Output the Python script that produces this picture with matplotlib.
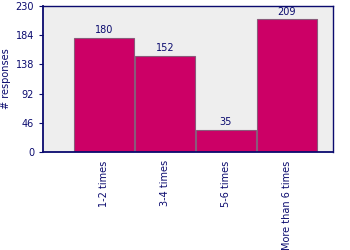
import matplotlib.pyplot as plt
import numpy as np

categories = ['1-2 times', '3-4 times', '5-6 times', 'More than 6 times']
responses = [180, 152, 35, 209]
yticks = [0, 46, 92, 138, 184, 230]

navy = '#0a0a6e'

fig = plt.figure(figsize=(3.5, 2.5), dpi=100)
ax = fig.add_axes([0.123, 0.392, 0.828, 0.584])
ax.set_facecolor('#eeeeee')

x = np.arange(len(categories))
ax.bar(x, responses, width=0.99, color='#cc0066', edgecolor='#8a5a7a', linewidth=0.8)

for xi, v in zip(x, responses):
    ax.text(xi, v + 4, str(v), ha='center', va='bottom', fontsize=7, color=navy)

ax.set_xlim(-1.01, 3.76)
ax.set_ylim(0, 230)
ax.set_yticks(yticks)
ax.set_yticklabels([str(t) for t in yticks], fontsize=7, color=navy)
ax.set_xticks(x)
ax.set_xticklabels(categories, rotation=90, fontsize=7, color=navy)
ax.tick_params(axis='x', length=0, pad=6)
ax.tick_params(axis='y', length=3, color=navy, width=0.8)
ax.set_ylabel('# responses', fontsize=7, color=navy, labelpad=3)

for s in ax.spines.values():
    s.set_color(navy)
    s.set_linewidth(1.0)
ax.spines['left'].set_linewidth(1.3)
ax.spines['bottom'].set_linewidth(1.3)

fig.savefig('out.png', dpi=100)
